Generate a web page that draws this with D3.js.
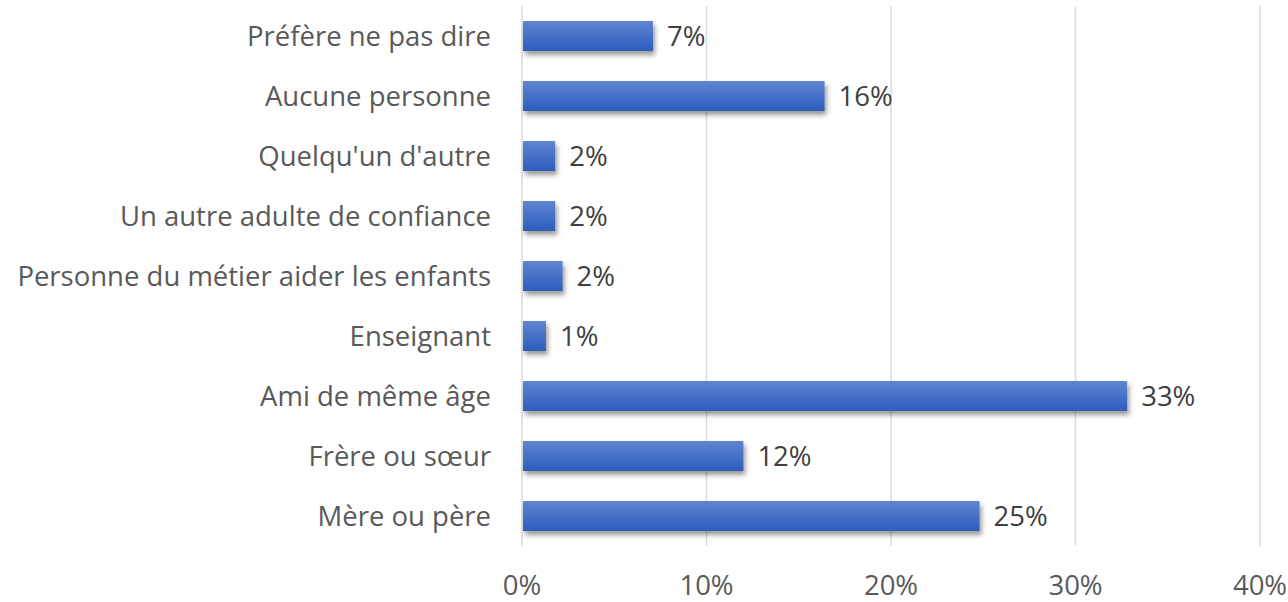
<!DOCTYPE html>
<html>
<head>
<meta charset="utf-8">
<script src="https://cdn.jsdelivr.net/npm/d3@7"></script>
<style>
  body { margin: 0; background: #fff; }
  text { font-family: "Open Sans", sans-serif; }
</style>
</head>
<body>
<div id="chart"></div>
<script>
// Categories, top to bottom
var categories = [
  'Préfère ne pas dire',
  'Aucune personne',
  "Quelqu'un d'autre",
  'Un autre adulte de confiance',
  'Personne du métier aider les enfants',
  'Enseignant',
  'Ami de même âge',
  'Frère ou sœur',
  'Mère ou père'
];
// Share of answers, percent
var values = [7.1, 16.4, 1.8, 1.8, 2.2, 1.3, 32.8, 12.0, 24.8];
var ticks = [0, 10, 20, 30, 40];

var width = 1288;
var height = 602;
var margin = { top: 6, right: 28, bottom: 56, left: 522 };
var fontSize = 27.5;

var svg = d3.select('#chart')
            .append('svg')
            .attr('width', width)
            .attr('height', height);

var defs = svg.append('defs');
var grad = defs.append('linearGradient')
               .attr('id', 'barGrad')
               .attr('x1', 0).attr('y1', 0)
               .attr('x2', 0).attr('y2', 1);
grad.append('stop').attr('offset', '0%').attr('stop-color', '#5f84d1');
grad.append('stop').attr('offset', '100%').attr('stop-color', '#2d5dbd');
var filter = defs.append('filter')
                 .attr('id', 'shadow')
                 .attr('x', '-5%').attr('y', '-30%')
                 .attr('width', '115%').attr('height', '180%');
filter.append('feDropShadow')
      .attr('dx', 2).attr('dy', 4)
      .attr('stdDeviation', 2.5)
      .attr('flood-color', '#000')
      .attr('flood-opacity', 0.4);

var x = d3.scaleLinear()
          .domain([0, 40])
          .range([margin.left, width - margin.right]);
var y = d3.scaleBand()
          .domain(categories)
          .range([margin.top, height - margin.bottom])
          .paddingInner(0.5)
          .paddingOuter(0.25);

// Gridlines
svg.append('g')
   .selectAll('line')
   .data(ticks)
   .enter()
   .append('line')
   .attr('x1', function (d) { return x(d); })
   .attr('x2', function (d) { return x(d); })
   .attr('y1', margin.top)
   .attr('y2', height - margin.bottom)
   .attr('stroke', '#d9d9d9')
   .attr('stroke-width', 1.5);

// Tick labels
svg.append('g')
   .selectAll('text')
   .data(ticks)
   .enter()
   .append('text')
   .attr('x', function (d) { return x(d); })
   .attr('y', 595)
   .attr('text-anchor', 'middle')
   .attr('font-size', fontSize)
   .attr('fill', '#595959')
   .text(function (d) { return d + '%'; });

// Category labels
svg.append('g')
   .selectAll('text')
   .data(categories)
   .enter()
   .append('text')
   .attr('x', margin.left - 31)
   .attr('y', function (d) { return y(d) + y.bandwidth() / 2; })
   .attr('dy', '0.35em')
   .attr('text-anchor', 'end')
   .attr('font-size', fontSize)
   .attr('fill', '#595959')
   .text(function (d) { return d; });

// Bars
svg.append('g')
   .attr('filter', 'url(#shadow)')
   .selectAll('rect')
   .data(values)
   .enter()
   .append('rect')
   .attr('x', x(0) + 1)
   .attr('y', function (d, i) { return y(categories[i]); })
   .attr('width', function (d) { return x(d) - x(0) - 1; })
   .attr('height', y.bandwidth())
   .attr('fill', 'url(#barGrad)');

// Value labels
var fmt = d3.format('.0f');
svg.append('g')
   .selectAll('text')
   .data(values)
   .enter()
   .append('text')
   .attr('x', function (d) { return x(d) + 14; })
   .attr('y', function (d, i) { return y(categories[i]) + y.bandwidth() / 2; })
   .attr('dy', '0.35em')
   .attr('font-size', fontSize)
   .attr('fill', '#404040')
   .text(function (d) { return fmt(d) + '%'; });
</script>
</body>
</html>
